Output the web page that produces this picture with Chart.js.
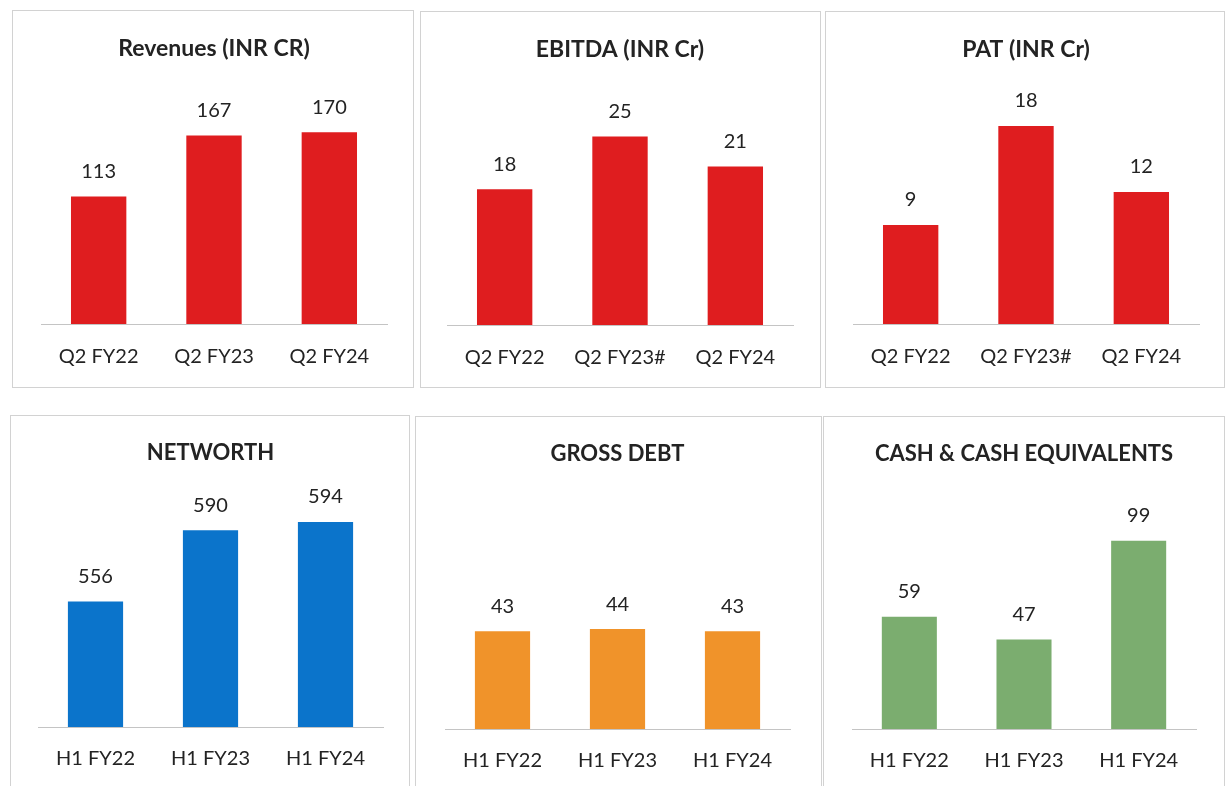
<!DOCTYPE html>
<html>
<head>
<meta charset="utf-8">
<title>Financial Highlights</title>
<script src="https://cdn.jsdelivr.net/npm/chart.js@4.4.0/dist/chart.umd.min.js"></script>
<style>
    html, body {
        margin: 0;
        padding: 0;
        background: #ffffff;
        width: 1226px;
        height: 786px;
        overflow: hidden;
    }
    .panel {
        position: absolute;
        box-sizing: border-box;
        border: 1px solid #d2d2d2;
        background: #ffffff;
    }
    .panel canvas {
        display: block;
    }
    #p-revenue  { left: 12px;  top: 10px;  width: 402px; height: 378px; }
    #p-ebitda   { left: 420px; top: 11px;  width: 401px; height: 377px; }
    #p-pat      { left: 825px; top: 11px;  width: 400px; height: 377px; }
    #p-networth { left: 10px;  top: 415px; width: 400px; height: 380px; }
    #p-debt     { left: 415px; top: 416px; width: 407px; height: 380px; }
    #p-cash     { left: 823px; top: 416px; width: 402px; height: 380px; }
</style>
</head>
<body>
<div class="panel" id="p-revenue"><canvas id="c-revenue"></canvas></div>
<div class="panel" id="p-ebitda"><canvas id="c-ebitda"></canvas></div>
<div class="panel" id="p-pat"><canvas id="c-pat"></canvas></div>
<div class="panel" id="p-networth"><canvas id="c-networth"></canvas></div>
<div class="panel" id="p-debt"><canvas id="c-debt"></canvas></div>
<div class="panel" id="p-cash"><canvas id="c-cash"></canvas></div>

<script>
// Category labels
const quarterLabels = ['Q2 FY22', 'Q2 FY23', 'Q2 FY24'];
const quarterLabelsHash = ['Q2 FY22', 'Q2 FY23#', 'Q2 FY24'];
const halfYearLabels = ['H1 FY22', 'H1 FY23', 'H1 FY24'];

// Series values (INR Cr)
const revenues = [113, 167, 170];
const ebitda = [18, 25, 21];
const pat = [9, 18, 12];
const networth = [556, 590, 594];
const grossDebt = [43, 44, 43];
const cashEquivalents = [59, 47, 99];

const RED = '#df1d1f';
const BLUE = '#0b74cb';
const ORANGE = '#f0932a';
const GREEN = '#7bad6f';
const TEXT = '#232323';

Chart.defaults.font.family = 'Lato, "Open Sans", sans-serif';
Chart.defaults.color = TEXT;

/**
 * Value labels above each bar
 */
const barValueLabels = {
    id: 'barValueLabels',
    afterDatasetsDraw(chart) {
        const ctx = chart.ctx;
        ctx.save();
        ctx.font = '20px Lato, "Open Sans", sans-serif';
        ctx.fillStyle = TEXT;
        ctx.textAlign = 'center';
        ctx.textBaseline = 'middle';
        chart.data.datasets.forEach((dataset, i) => {
            chart.getDatasetMeta(i).data.forEach((bar, j) => {
                ctx.fillText(String(dataset.data[j]), bar.x, bar.y - 25);
            });
        });
        ctx.restore();
    }
};

/**
 * Build one panel chart
 */
function createPanel(canvasId, title, labels, values, color, range, pad) {
    const canvas = document.getElementById(canvasId);
    const box = canvas.parentElement;
    canvas.width = box.clientWidth;
    canvas.height = box.clientHeight;

    return new Chart(canvas, {
        type: 'bar',
        data: {
            labels: labels,
            datasets: [{
                data: values,
                backgroundColor: color,
                borderWidth: 0,
                barPercentage: 0.48,
                categoryPercentage: 1.0
            }]
        },
        options: {
            responsive: false,
            animation: false,
            devicePixelRatio: 1,
            layout: {
                padding: { top: 0, left: pad.left, right: pad.right, bottom: pad.bottom }
            },
            plugins: {
                legend: { display: false },
                tooltip: { enabled: false },
                title: {
                    display: true,
                    text: title,
                    color: TEXT,
                    font: { size: pad.titleSize, weight: 'bold', lineHeight: 1.2 },
                    padding: { top: 24, bottom: 20 }
                }
            },
            scales: {
                x: {
                    grid: { display: false, drawTicks: false },
                    border: { display: true, color: '#c4c4c4', width: 1 },
                    ticks: {
                        color: TEXT,
                        padding: pad.ticks,
                        font: { size: 20, lineHeight: 1.0 },
                        maxRotation: 0,
                        autoSkip: false
                    }
                },
                y: {
                    display: false,
                    min: range.min,
                    max: range.max
                }
            }
        },
        plugins: [barValueLabels]
    });
}

createPanel('c-revenue', 'Revenues (INR CR)', quarterLabels, revenues, RED,
    { min: 0, max: 214 }, { left: 28, right: 26, bottom: -3, ticks: 23, titleSize: 23 });
createPanel('c-ebitda', 'EBITDA (INR Cr)', quarterLabelsHash, ebitda, RED,
    { min: 0, max: 32 }, { left: 26, right: 27, bottom: -4, ticks: 23, titleSize: 23 });
createPanel('c-pat', 'PAT (INR Cr)', quarterLabelsHash, pat, RED,
    { min: 0, max: 21.85 }, { left: 27, right: 25, bottom: -3, ticks: 23, titleSize: 23 });
createPanel('c-networth', 'NETWORTH', halfYearLabels, networth, BLUE,
    { min: 496, max: 611 }, { left: 27, right: 26, bottom: 3, ticks: 22, titleSize: 22 });
createPanel('c-debt', 'GROSS DEBT', halfYearLabels, grossDebt, ORANGE,
    { min: 0, max: 106.4 }, { left: 29, right: 31, bottom: 2, ticks: 22, titleSize: 22 });
createPanel('c-cash', 'CASH & CASH EQUIVALENTS', halfYearLabels, cashEquivalents, GREEN,
    { min: 0, max: 127 }, { left: 28, right: 28, bottom: 2, ticks: 22, titleSize: 22 });
</script>
</body>
</html>
